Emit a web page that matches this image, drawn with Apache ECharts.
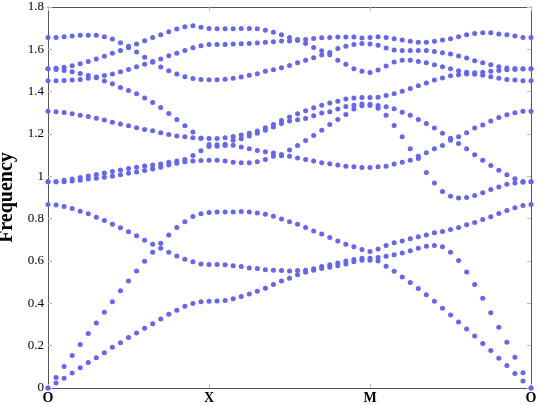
<!DOCTYPE html>
<html>
<head>
<meta charset="utf-8">
<script src="https://cdn.jsdelivr.net/npm/echarts@6/dist/echarts.min.js"></script>
<style>
html,body{margin:0;padding:0;background:#fff;}
#chart{width:540px;height:405px;}
</style>
</head>
<body>
<div id="chart"></div>
<script>
// Path labels and the k-point index where each sits
const pathLabels = ['O', 'X', 'M', 'O'];
const pathLabelIndex = [0, 20, 40, 60];
const yTicks = [0, 0.2, 0.4, 0.6, 0.8, 1, 1.2, 1.4, 1.6, 1.8];

// Band frequencies (sorted from lowest band 1 to highest band 10), 61 k-points each
const band1 = [0, 0.024, 0.046, 0.071, 0.096, 0.12, 0.143, 0.167, 0.192, 0.214, 0.238, 0.26, 0.282, 0.304, 0.326, 0.348, 0.367, 0.386, 0.399, 0.407, 0.41,
  0.411, 0.413, 0.422, 0.432, 0.444, 0.457, 0.471, 0.489, 0.506, 0.519, 0.535, 0.547, 0.556, 0.564, 0.571, 0.577, 0.586, 0.596, 0.604, 0.604,
  0.6, 0.575, 0.552, 0.525, 0.498, 0.47, 0.44, 0.41, 0.377, 0.345, 0.312, 0.279, 0.246, 0.21, 0.177, 0.14, 0.106, 0.069, 0.033, 0];
const band2 = [0, 0.05, 0.102, 0.154, 0.205, 0.257, 0.307, 0.358, 0.408, 0.459, 0.506, 0.553, 0.599, 0.641, 0.66, 0.641, 0.624, 0.608, 0.597, 0.586, 0.583,
  0.583, 0.582, 0.577, 0.574, 0.567, 0.564, 0.559, 0.556, 0.555, 0.553, 0.555, 0.556, 0.563, 0.574, 0.582, 0.591, 0.6, 0.607, 0.613, 0.613,
  0.616, 0.623, 0.629, 0.638, 0.648, 0.66, 0.67, 0.673, 0.667, 0.641, 0.602, 0.548, 0.489, 0.424, 0.356, 0.287, 0.216, 0.145, 0.072, 0];
const band3 = [0.867, 0.864, 0.857, 0.848, 0.835, 0.823, 0.807, 0.791, 0.774, 0.757, 0.738, 0.719, 0.698, 0.679, 0.684, 0.723, 0.758, 0.786, 0.81, 0.823, 0.829,
  0.831, 0.831, 0.832, 0.834, 0.831, 0.827, 0.821, 0.812, 0.799, 0.786, 0.774, 0.758, 0.742, 0.727, 0.711, 0.695, 0.679, 0.667, 0.654, 0.645,
  0.657, 0.673, 0.686, 0.695, 0.705, 0.714, 0.723, 0.733, 0.739, 0.749, 0.758, 0.771, 0.782, 0.796, 0.809, 0.824, 0.838, 0.851, 0.862, 0.867];
const band4 = [0.974, 0.973, 0.975, 0.978, 0.982, 0.987, 0.991, 0.996, 1.0, 1.008, 1.014, 1.02, 1.028, 1.035, 1.043, 1.054, 1.062, 1.069, 1.073, 1.075, 1.076,
  1.076, 1.073, 1.067, 1.064, 1.064, 1.069, 1.08, 1.095, 1.097, 1.095, 1.087, 1.08, 1.072, 1.064, 1.059, 1.053, 1.048, 1.045, 1.042, 1.042,
  1.045, 1.048, 1.058, 1.067, 1.076, 1.084, 1.018, 0.969, 0.928, 0.906, 0.898, 0.9, 0.909, 0.922, 0.938, 0.95, 0.963, 0.969, 0.972, 0.974];
const band5 = [0.974, 0.976, 0.981, 0.987, 0.994, 1.001, 1.009, 1.016, 1.023, 1.03, 1.037, 1.043, 1.049, 1.054, 1.058, 1.066, 1.072, 1.08, 1.098, 1.121, 1.141,
  1.142, 1.146, 1.147, 1.138, 1.13, 1.122, 1.116, 1.11, 1.103, 1.124, 1.146, 1.169, 1.193, 1.218, 1.245, 1.269, 1.292, 1.318, 1.333, 1.335,
  1.322, 1.288, 1.24, 1.187, 1.13, 1.095, 1.111, 1.13, 1.146, 1.171, 1.155, 1.13, 1.102, 1.076, 1.051, 1.029, 1.007, 0.988, 0.976, 0.974];
const band6 = [1.307, 1.305, 1.302, 1.296, 1.289, 1.283, 1.275, 1.266, 1.256, 1.247, 1.239, 1.229, 1.221, 1.215, 1.206, 1.198, 1.191, 1.187, 1.182, 1.18, 1.15,
  1.149, 1.152, 1.17, 1.178, 1.19, 1.203, 1.218, 1.233, 1.25, 1.261, 1.267, 1.273, 1.286, 1.299, 1.305, 1.318, 1.33, 1.336, 1.342, 1.341,
  1.335, 1.329, 1.319, 1.303, 1.288, 1.269, 1.25, 1.228, 1.203, 1.18, 1.187, 1.206, 1.228, 1.243, 1.262, 1.278, 1.291, 1.3, 1.307, 1.307];
const band7 = [1.452, 1.452, 1.453, 1.455, 1.458, 1.463, 1.466, 1.45, 1.437, 1.42, 1.406, 1.39, 1.37, 1.349, 1.325, 1.297, 1.269, 1.239, 1.209, 1.18, 1.179,
  1.179, 1.182, 1.188, 1.195, 1.203, 1.214, 1.229, 1.245, 1.264, 1.28, 1.296, 1.31, 1.324, 1.336, 1.346, 1.355, 1.365, 1.37, 1.373, 1.373,
  1.374, 1.382, 1.39, 1.402, 1.415, 1.428, 1.441, 1.455, 1.465, 1.475, 1.48, 1.484, 1.482, 1.477, 1.471, 1.463, 1.458, 1.455, 1.452, 1.452];
const band8 = [1.508, 1.505, 1.5, 1.494, 1.486, 1.476, 1.469, 1.476, 1.484, 1.494, 1.505, 1.518, 1.53, 1.539, 1.516, 1.499, 1.483, 1.47, 1.462, 1.458, 1.456,
  1.456, 1.459, 1.463, 1.469, 1.477, 1.485, 1.496, 1.504, 1.513, 1.524, 1.537, 1.548, 1.56, 1.573, 1.574, 1.549, 1.529, 1.508, 1.496, 1.491,
  1.502, 1.521, 1.54, 1.549, 1.549, 1.543, 1.537, 1.527, 1.518, 1.508, 1.499, 1.492, 1.489, 1.492, 1.496, 1.5, 1.503, 1.505, 1.507, 1.508];
const band9 = [1.508, 1.511, 1.515, 1.522, 1.532, 1.543, 1.554, 1.567, 1.581, 1.595, 1.607, 1.587, 1.563, 1.543, 1.554, 1.57, 1.582, 1.595, 1.608, 1.617, 1.623,
  1.623, 1.623, 1.625, 1.626, 1.628, 1.63, 1.633, 1.636, 1.639, 1.639, 1.642, 1.628, 1.609, 1.593, 1.585, 1.604, 1.614, 1.623, 1.628, 1.625,
  1.619, 1.606, 1.597, 1.594, 1.594, 1.594, 1.594, 1.59, 1.584, 1.578, 1.568, 1.559, 1.546, 1.537, 1.527, 1.518, 1.512, 1.509, 1.508, 1.508];
const band10 = [1.656, 1.656, 1.66, 1.663, 1.666, 1.666, 1.666, 1.66, 1.649, 1.631, 1.615, 1.625, 1.641, 1.656, 1.669, 1.683, 1.696, 1.707, 1.712, 1.704, 1.699,
  1.697, 1.697, 1.697, 1.699, 1.699, 1.697, 1.69, 1.681, 1.669, 1.656, 1.647, 1.647, 1.651, 1.655, 1.656, 1.658, 1.658, 1.658, 1.653, 1.656,
  1.66, 1.656, 1.65, 1.644, 1.638, 1.634, 1.634, 1.638, 1.644, 1.65, 1.66, 1.669, 1.675, 1.678, 1.678, 1.672, 1.669, 1.663, 1.656, 1.656];

const bands = [band1, band2, band3, band4, band5, band6, band7, band8, band9, band10];

const serif = '"Liberation Serif", "DejaVu Serif", serif';
const markerColor = '#6464f5';

const chart = echarts.init(document.getElementById('chart'), null, {renderer: 'canvas'});

const xBase = {
  type: 'value', min: 0, max: 60, interval: 20,
  axisLine: {show: true, onZero: false, lineStyle: {color: '#555', width: 1}},
  axisTick: {show: true, inside: true, length: 4, lineStyle: {color: '#bbb', width: 1}},
  splitLine: {show: false}
};
const yBase = {
  type: 'value', min: 0, max: 1.8, interval: 0.2,
  axisLine: {show: true, onZero: false, lineStyle: {color: '#555', width: 1}},
  axisTick: {show: true, inside: true, length: 4, lineStyle: {color: '#bbb', width: 1}},
  splitLine: {show: false}
};

chart.setOption({
  animation: false,
  backgroundColor: '#fff',
  grid: {left: 48, right: 9, top: 7, bottom: 17, containLabel: false, outerBoundsMode: 'none'},
  xAxis: [
    Object.assign({}, xBase, {
      position: 'bottom',
      axisLabel: {
        show: true, margin: 3, color: '#000',
        fontFamily: serif, fontSize: 14, fontWeight: 'bold',
        formatter: function (v) {
          const i = pathLabelIndex.indexOf(Math.round(v));
          return i >= 0 ? pathLabels[i] : '';
        }
      }
    }),
    Object.assign({}, xBase, {position: 'top', axisLabel: {show: false}})
  ],
  yAxis: [
    Object.assign({}, yBase, {
      position: 'left',
      name: 'Frequency',
      nameLocation: 'middle',
      nameGap: 20,
      nameRotate: 90,
      nameTextStyle: {fontFamily: serif, fontSize: 20, fontWeight: 'bold', color: '#000'},
      axisLabel: {
        show: true, margin: 4, color: '#000',
        fontFamily: serif, fontSize: 13,
        formatter: function (v) {
          const r = Math.round(v * 10) / 10;
          return yTicks.indexOf(r) >= 0 ? String(r) : '';
        }
      }
    }),
    Object.assign({}, yBase, {position: 'right', axisLabel: {show: false}})
  ],
  series: bands.map(function (b, bi) {
    return {
      name: 'band' + (bi + 1),
      type: 'scatter',
      xAxisIndex: 0,
      yAxisIndex: 0,
      symbol: 'circle',
      symbolSize: 5,
      clip: false,
      itemStyle: {color: markerColor, opacity: 1},
      data: b.map(function (v, k) { return [k, v]; })
    };
  })
});
</script>
</body>
</html>
